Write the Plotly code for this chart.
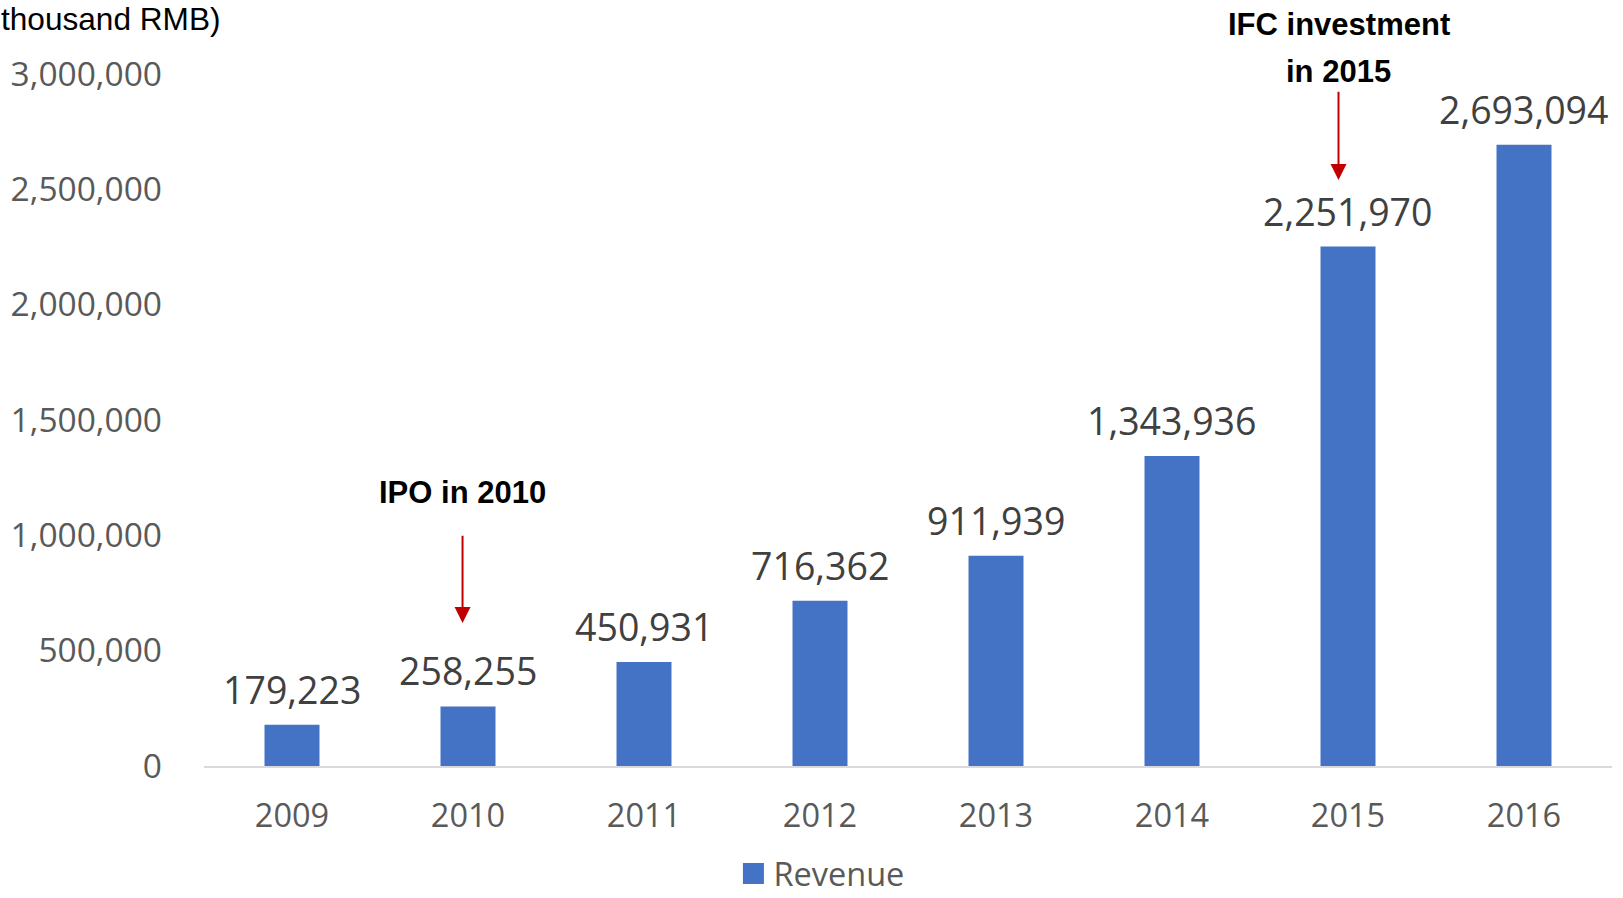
import plotly.graph_objects as go

years = ["2009", "2010", "2011", "2012", "2013", "2014", "2015", "2016"]
revenue = [179223, 258255, 450931, 716362, 911939, 1343936, 2251970, 2693094]
y_ticks = [0, 500000, 1000000, 1500000, 2000000, 2500000, 3000000]
y_tick_labels = ["0", "500,000", "1,000,000", "1,500,000", "2,000,000", "2,500,000", "3,000,000"]

BAR = "#4472C4"
FONT = "Open Sans"

fig = go.Figure()
fig.add_trace(go.Bar(
    x=years, y=revenue, name="Revenue",
    marker=dict(color=BAR, line=dict(width=0)),
    showlegend=False,
))
# legend entry (larger square swatch like the original)
fig.add_trace(go.Scatter(
    x=[None], y=[None], mode="markers", name="Revenue",
    marker=dict(symbol="square", size=16, color=BAR, line=dict(color=BAR, width=5)),
    showlegend=True, hoverinfo="skip",
))

# data labels (x given as category index)
for i, v in enumerate(revenue):
    fig.add_annotation(
        x=i, y=v, xref="x", yref="y", text=f"{v:,}", showarrow=False,
        yanchor="bottom", yshift=8,
        font=dict(family=FONT, size=37.5, color="#404040"),
    )

# event annotations
fig.add_annotation(x=0.966, y=1185700, xref="x", yref="y", text="<b>IPO in 2010</b>",
                   showarrow=False, xanchor="center", yanchor="middle",
                   font=dict(family="Liberation Sans", size=31, color="#000000"))
fig.add_annotation(x=0.969, y=620000, ax=0.969, ay=1005000, xref="x", yref="y",
                   axref="x", ayref="y", text="", showarrow=True,
                   arrowhead=2, arrowsize=1.6, arrowwidth=2, arrowcolor="#C00000")

fig.add_annotation(x=5.946, y=1.0715, xref="x", yref="paper", text="<b>IFC investment</b>",
                   showarrow=False, xanchor="center", yanchor="middle",
                   font=dict(family="Liberation Sans", size=31, color="#000000"))
fig.add_annotation(x=5.946, y=1.0036, xref="x", yref="paper", text="<b>in 2015</b>",
                   showarrow=False, xanchor="center", yanchor="middle",
                   font=dict(family="Liberation Sans", size=31, color="#000000"))
fig.add_annotation(x=5.946, y=2540000, ax=5.946, ay=2930000, xref="x", yref="y",
                   axref="x", ayref="y", text="", showarrow=True,
                   arrowhead=2, arrowsize=1.6, arrowwidth=2, arrowcolor="#C00000")

# axis unit label (partly cropped in the original)
fig.add_annotation(x=-0.1456, y=1.080, xref="paper", yref="paper", text="thousand RMB)",
                   showarrow=False, xanchor="left", yanchor="middle",
                   font=dict(family="Liberation Sans", size=31.6, color="#000000"))

fig.update_layout(
    width=1623, height=898,
    margin=dict(l=204, r=11, t=74, b=132, autoexpand=False),
    paper_bgcolor="white", plot_bgcolor="white",
    bargap=0.6875,
    font=dict(family=FONT, color="#595959"),
    legend=dict(orientation="h", x=0.376, xanchor="left", y=-0.156, yanchor="middle",
                font=dict(family=FONT, size=32.5, color="#595959"),
                bgcolor="rgba(0,0,0,0)"),
    xaxis=dict(type="category", range=[-0.5, 7.5], showgrid=False, zeroline=False,
               showline=True, linecolor="#D9D9D9", linewidth=1.5, ticks="",
               tickfont=dict(family=FONT, size=32.5, color="#595959"),
               ticklabelstandoff=20),
    yaxis=dict(range=[0, 3000000], showgrid=False, zeroline=False, showline=False,
               tickvals=y_ticks, ticktext=y_tick_labels, ticks="",
               tickfont=dict(family=FONT, size=33.5, color="#595959"),
               ticklabelstandoff=41),
)

fig.write_html("out.html", config={"displayModeBar": False},
               post_script="document.body.style.margin='0';document.body.style.overflow='hidden';")
